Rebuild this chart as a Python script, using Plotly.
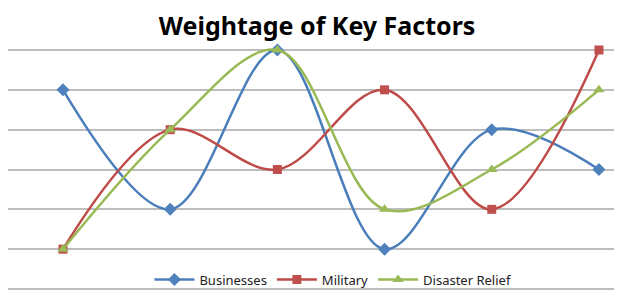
import plotly.graph_objects as go

categories = [1, 2, 3, 4, 5, 6]
businesses = [5, 2, 6, 1, 4, 3]
military = [1, 4, 3, 5, 2, 6]
disaster_relief = [1, 4, 6, 2, 3, 5]

fig = go.Figure()
series = [
    ("Businesses", businesses, "#4A7EBB", "#4F81BD", "diamond", 10),
    ("Military", military, "#BE4B48", "#C0504D", "square", 9),
    ("Disaster Relief", disaster_relief, "#98B954", "#9BBB59", "triangle-up", 10),
]
for name, vals, lc, mc, sym, ms in series:
    fig.add_trace(go.Scatter(
        x=categories, y=vals, name=name, mode="lines+markers",
        line=dict(color=lc, width=2.5, shape="spline", smoothing=1.0),
        marker=dict(symbol=sym, size=ms, color=mc),
        cliponaxis=False,
    ))

fig.update_layout(
    width=622, height=297,
    margin=dict(l=0, r=8, t=40, b=14),
    paper_bgcolor="white", plot_bgcolor="white",
    title=dict(text="<b>Weightage of Key Factors</b>", x=0.497, xanchor="center",
               y=0.94, yref="container", yanchor="middle",
               font=dict(family="Noto Sans", size=25, color="black")),
    showlegend=True,
    legend=dict(orientation="h", x=0.53, xanchor="center", y=-0.015, yanchor="bottom",
                bgcolor="rgba(0,0,0,0)", font=dict(family="Noto Sans", size=13, color="#222"),
                itemwidth=40, tracegroupgap=0),
    xaxis=dict(range=[0.487, 6.215], showgrid=False, showticklabels=False,
               zeroline=False, showline=False, ticks=""),
    yaxis=dict(range=[-0.05, 6.05], tickvals=[0, 1, 2, 3, 4, 5, 6], showgrid=True,
               gridcolor="#BDBDBD", gridwidth=1.5,
               showticklabels=False, zeroline=False, showline=False, ticks=""),
)

fig.write_html("out.html")
